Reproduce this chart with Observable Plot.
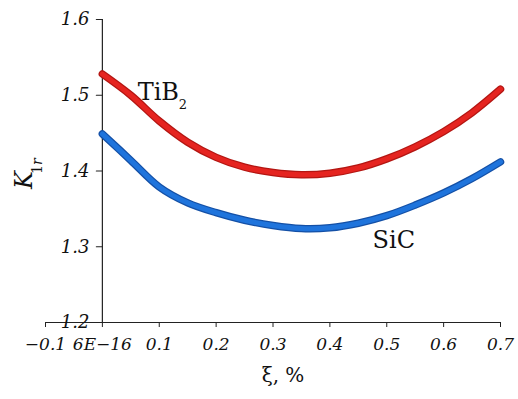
<!DOCTYPE html>
<html>
<head>
<meta charset="utf-8">
<script src="https://cdn.jsdelivr.net/npm/d3@7"></script>
<script src="https://cdn.jsdelivr.net/npm/@observablehq/plot@0.6"></script>
<style>
  html, body { margin: 0; padding: 0; background: #fff; }
</style>
</head>
<body>
<div id="chart"></div>
<script>
// ---- data ----
const xi = [0, 0.05, 0.1, 0.15, 0.2, 0.25, 0.3, 0.35, 0.4, 0.45, 0.5, 0.55, 0.6, 0.65, 0.7];
const tib2 = [1.528, 1.500, 1.466, 1.438, 1.418, 1.405, 1.398, 1.395, 1.397, 1.404, 1.416, 1.432, 1.452, 1.477, 1.508];
const sic  = [1.449, 1.414, 1.379, 1.358, 1.345, 1.335, 1.328, 1.324, 1.325, 1.331, 1.341, 1.355, 1.371, 1.390, 1.412];
const xTicks = [-0.1, 0, 0.1, 0.2, 0.3, 0.4, 0.5, 0.6, 0.7];
const xTickLabels = ["\u22120.1", "6E\u221216", "0.1", "0.2", "0.3", "0.4", "0.5", "0.6", "0.7"];
const yTicks = [1.2, 1.3, 1.4, 1.5, 1.6];
const yTickLabels = ["1.2", "1.3", "1.4", "1.5", "1.6"];
const seriesLabels = [
  {text: "TiB", sub: "2", x: 0.062, y: 1.504},
  {text: "SiC", sub: "", x: 0.475, y: 1.308}
];

const redData = xi.map((x, i) => ({x, y: tib2[i]}));
const blueData = xi.map((x, i) => ({x, y: sic[i]}));
const xLabelMap = new Map(xTicks.map((t, i) => [t, xTickLabels[i]]));
const yLabelMap = new Map(yTicks.map((t, i) => [t, yTickLabels[i]]));

const tickShape = {draw(context, l) { context.moveTo(0, 0); context.lineTo(0, -l); }};
const font = "DejaVu Serif";

const chart = Plot.plot({
  width: 518,
  height: 399,
  marginLeft: 45,
  marginRight: 18,
  marginTop: 19,
  marginBottom: 77,
  style: {fontFamily: font, background: "#fff", color: "#111"},
  x: {domain: [-0.1, 0.7], axis: null},
  y: {domain: [1.2, 1.6], axis: null},
  marks: [
    // x axis
    Plot.ruleY([1.2], {stroke: "#222", strokeWidth: 1.2}),
    Plot.axisX({
      ticks: xTicks, tickSize: 5, tickPadding: 10,
      tickFormat: d => xLabelMap.get(d),
      fontSize: 17, fontStyle: "italic", stroke: "#222", label: null
    }),
    Plot.text(["\u03BE, %"], {frameAnchor: "bottom", dx: 10, dy: 59, fontSize: 20, fill: "#111"}),
    // y axis at x = 0
    Plot.ruleX([0], {y1: 1.2, y2: 1.6, stroke: "#222", strokeWidth: 1.2}),
    Plot.vector(yTicks, {x: 0, y: d => d, length: 6, rotate: -90, anchor: "start", shape: tickShape, stroke: "#222", strokeWidth: 1.2}),
    Plot.text(yTicks, {x: 0, y: d => d, text: d => yLabelMap.get(d), dx: -13, textAnchor: "end", fontSize: 18, fontStyle: "italic", fill: "#111"}),
    // y axis label K_1r
    Plot.text(["K"], {frameAnchor: "left", rotate: -90, dx: -21, dy: 18, fontSize: 24, fontStyle: "italic", fill: "#111"}),
    Plot.text(["1"], {frameAnchor: "left", rotate: -90, dx: -8, dy: 3, fontSize: 14, fill: "#111"}),
    Plot.text(["r"], {frameAnchor: "left", rotate: -90, dx: -8, dy: -6, fontSize: 14, fontStyle: "italic", fill: "#111"}),
    // curves
    Plot.line(redData, {x: "x", y: "y", curve: "catmull-rom", stroke: "#b31612", strokeWidth: 7.5, strokeLinecap: "round"}),
    Plot.line(redData, {x: "x", y: "y", curve: "catmull-rom", stroke: "#e52420", strokeWidth: 5, strokeLinecap: "round"}),
    Plot.line(blueData, {x: "x", y: "y", curve: "catmull-rom", stroke: "#1450a6", strokeWidth: 7.5, strokeLinecap: "round"}),
    Plot.line(blueData, {x: "x", y: "y", curve: "catmull-rom", stroke: "#1f74dc", strokeWidth: 5, strokeLinecap: "round"}),
    // series labels
    Plot.text(seriesLabels, {x: "x", y: "y", text: "text", textAnchor: "start", lineAnchor: "middle", fontSize: 24, fill: "#111"}),
    Plot.text(seriesLabels.filter(d => d.sub), {x: "x", y: "y", text: "sub", textAnchor: "start", lineAnchor: "middle", dx: 41, dy: 13, fontSize: 13, fill: "#111"})
  ]
});
document.getElementById("chart").appendChild(chart);
</script>
</body>
</html>
